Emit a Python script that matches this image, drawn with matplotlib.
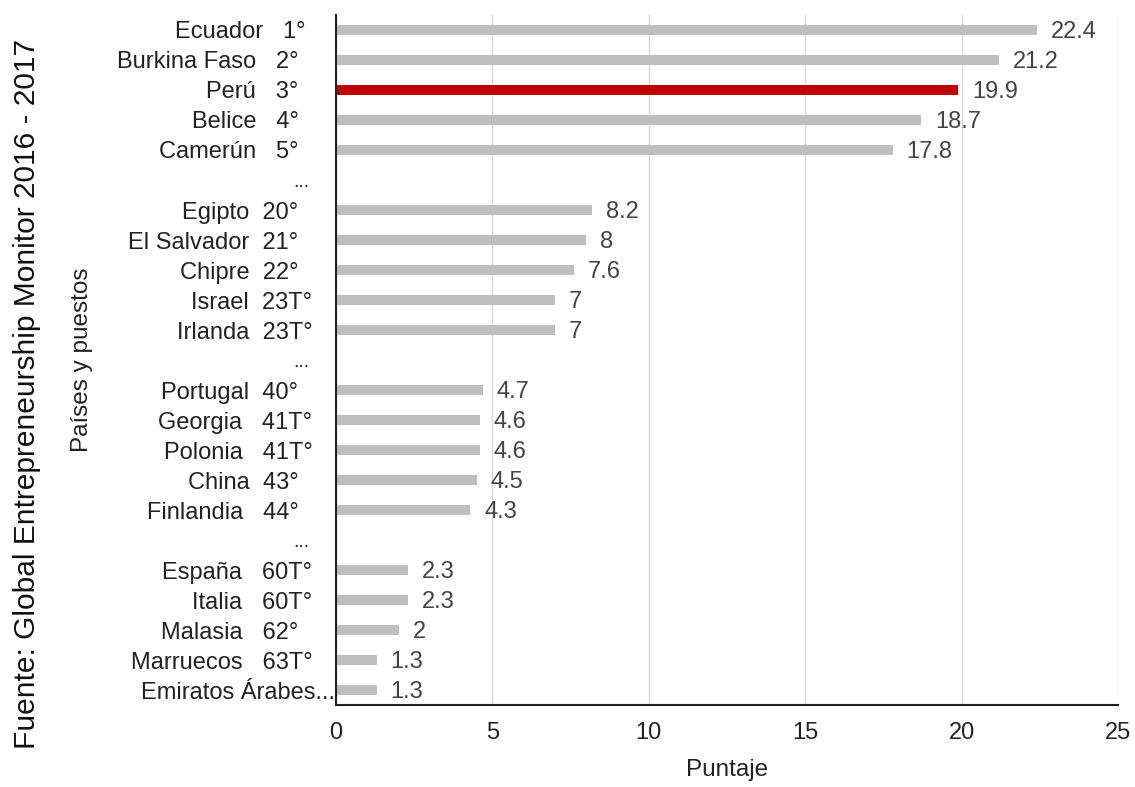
import matplotlib
matplotlib.use("Agg")
import matplotlib.pyplot as plt

plt.rcParams['font.family'] = ['Liberation Sans', 'DejaVu Sans']

# rows from top to bottom; None marks the "..." gaps
labels = ["Ecuador   1°", "Burkina Faso   2°", "Perú   3°", "Belice   4°", "Camerún   5°",
          "...",
          "Egipto  20°", "El Salvador  21°", "Chipre  22°", "Israel  23T°", "Irlanda  23T°",
          "...",
          "Portugal  40°", "Georgia   41T°", "Polonia   41T°", "China  43°", "Finlandia   44°",
          "...",
          "España   60T°", "Italia   60T°", "Malasia   62°", "Marruecos   63T°", "Emiratos Árabes..."]
scores = [22.4, 21.2, 19.9, 18.7, 17.8,
          None,
          8.2, 8, 7.6, 7, 7,
          None,
          4.7, 4.6, 4.6, 4.5, 4.3,
          None,
          2.3, 2.3, 2, 1.3, 1.3]
highlight = "Perú   3°"

fig = plt.figure(figsize=(11.35, 7.87), dpi=100)
ax = fig.add_axes([0.296, 0.104, 0.689, 0.877])

for i, (lab, val) in enumerate(zip(labels, scores)):
    if val is None:
        continue
    col = "#c00000" if lab == highlight else "#bfbfbf"
    ax.barh(i, val, height=0.33, color=col, zorder=2)
    ax.annotate("%g" % val, (val, i), xytext=(10, -1.5), textcoords="offset points",
                va="center", ha="left", fontsize=17, color="#444444")

ax.set_yticks(range(len(labels)))
ax.set_yticklabels(labels, fontsize=17, color="#222222")
ax.set_ylim(len(labels) - 0.5, -0.5)
ax.set_xlim(0, 25)
ax.set_xticks([0, 5, 10, 15, 20, 25])
ax.tick_params(axis="both", length=0)
ax.tick_params(axis="x", labelsize=17, labelcolor="#222222", pad=12)

# tie ranks stick out further to the right, the long name runs into the axis
for tick, lab in zip(ax.yaxis.get_major_ticks(), labels):
    if lab == "...":
        tick.set_pad(19)
        tick.label1.set_fontsize(14)
    elif lab.endswith("..."):
        tick.set_pad(1)
    elif "T°" in lab:
        tick.set_pad(17)
    elif lab.endswith(" 1°"):
        tick.set_pad(22)
    else:
        tick.set_pad(27)

ax.grid(axis="x", color="#d9d9d9", linewidth=1, zorder=0)
ax.set_axisbelow(True)
for s in ["top", "right"]:
    ax.spines[s].set_visible(False)
for s in ["left", "bottom"]:
    ax.spines[s].set_color("#222222")
    ax.spines[s].set_linewidth(1.5)

ax.set_xlabel("Puntaje", fontsize=17.5, color="#222222")
ax.xaxis.set_label_coords(0.5, -0.078)
ax.set_ylabel("Países y puestos", fontsize=17.5, color="#222222")
ax.yaxis.set_label_coords(-0.311, 0.5)

fig.text(0.024, 0.5, "Fuente: Global Entrepreneurship Monitor 2016 - 2017",
         rotation=90, va="center", ha="center", fontsize=21.5, color="#111111")

fig.savefig("out.png", dpi=100)
